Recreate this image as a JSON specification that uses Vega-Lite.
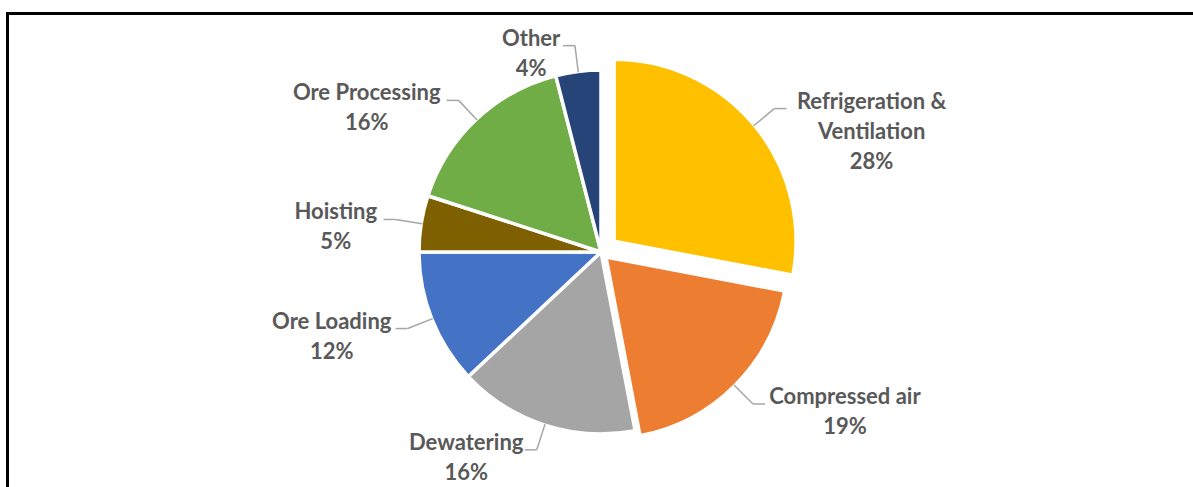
{
  "$schema": "https://vega.github.io/schema/vega-lite/v6.json",
  "width": 1187,
  "height": 477,
  "autosize": {"type": "none"},
  "padding": {"left": 7.5, "top": 13.5, "right": 0, "bottom": 0},
  "background": "white",
  "view": {"stroke": "black", "strokeWidth": 3},
  "data": {
    "values": [
      {"category": "Refrigeration & Ventilation", "value": 28},
      {"category": "Compressed air", "value": 19},
      {"category": "Dewatering", "value": 16},
      {"category": "Ore Loading", "value": 12},
      {"category": "Hoisting", "value": 5},
      {"category": "Ore Processing", "value": 16},
      {"category": "Other", "value": 4}
    ]
  },
  "transform": [
    {"window": [{"op": "sum", "field": "value", "as": "end"}], "frame": [null, 0]},
    {"calculate": "datum.end - datum.value", "as": "start"},
    {"calculate": "PI*(datum.start+datum.end)/100", "as": "ang"},
    {"calculate": "datum.category === 'Refrigeration & Ventilation' ? 17 : (datum.category === 'Compressed air' ? 7 : 0)", "as": "ex"},
    {"calculate": "sin(datum.ang) >= 0 ? 1 : -1", "as": "side"},
    {"calculate": "(181 + datum.ex)*sin(datum.ang)", "as": "x0"},
    {"calculate": "-(181 + datum.ex)*cos(datum.ang)", "as": "y0"},
    {"calculate": "(208 + datum.ex)*sin(datum.ang)", "as": "x1"},
    {"calculate": "-(208 + datum.ex)*cos(datum.ang)", "as": "y1"},
    {"calculate": "datum.x1 + datum.side*12", "as": "x2"},
    {"calculate": "indexof(datum.category, ' & ') >= 0 ? replace(datum.category, ' & ', ' &\\n') : datum.category", "as": "name"},
    {"calculate": "indexof(datum.category, ' & ') >= 0 ? indexof(datum.category, ' & ') + 2 : length(datum.category)", "as": "nchar"},
    {"calculate": "datum.x2 + datum.side*(5 + 5.35*datum.nchar)", "as": "tx"},
    {"calculate": "datum.y1 - 21", "as": "ty"},
    {"calculate": "datum.name + '\\n' + datum.value + '%'", "as": "label"}
  ],
  "layer": [
    {
      "mark": {
        "type": "arc",
        "radius": 182,
        "stroke": "white",
        "strokeWidth": 3.5,
        "x": {"expr": "width/2 + datum.ex*sin(datum.ang)"},
        "y": {"expr": "height/2 - datum.ex*cos(datum.ang)"}
      },
      "encoding": {
        "theta": {"field": "start", "type": "quantitative", "stack": null, "scale": {"domain": [0, 100], "range": [0, 6.283185307179586]}},
        "theta2": {"field": "end"},
        "color": {
          "field": "category",
          "type": "nominal",
          "legend": null,
          "scale": {
            "domain": ["Refrigeration & Ventilation", "Compressed air", "Dewatering", "Ore Loading", "Hoisting", "Ore Processing", "Other"],
            "range": ["#FFC000", "#ED7D31", "#A5A5A5", "#4472C4", "#7F6000", "#70AD47", "#264478"]
          }
        }
      }
    },
    {
      "mark": {"type": "rule", "color": "#A6A6A6", "strokeWidth": 1.5},
      "encoding": {
        "x": {"field": "x0", "type": "quantitative", "axis": null, "scale": {"domain": [-593.5, 593.5], "nice": false, "zero": false}},
        "y": {"field": "y0", "type": "quantitative", "axis": null, "scale": {"domain": [-238.5, 238.5], "nice": false, "zero": false, "reverse": true}},
        "x2": {"field": "x1"},
        "y2": {"field": "y1"}
      }
    },
    {
      "mark": {"type": "rule", "color": "#A6A6A6", "strokeWidth": 1.5},
      "encoding": {
        "x": {"field": "x1", "type": "quantitative"},
        "y": {"field": "y1", "type": "quantitative"},
        "x2": {"field": "x2"}
      }
    },
    {
      "mark": {
        "type": "text",
        "font": "Lato",
        "fontWeight": "bold",
        "fontSize": 22,
        "color": "#595959",
        "align": "center",
        "baseline": "line-top",
        "lineHeight": 30,
        "lineBreak": "\n"
      },
      "encoding": {
        "x": {"field": "tx", "type": "quantitative"},
        "y": {"field": "ty", "type": "quantitative"},
        "text": {"field": "label"}
      }
    }
  ]
}
